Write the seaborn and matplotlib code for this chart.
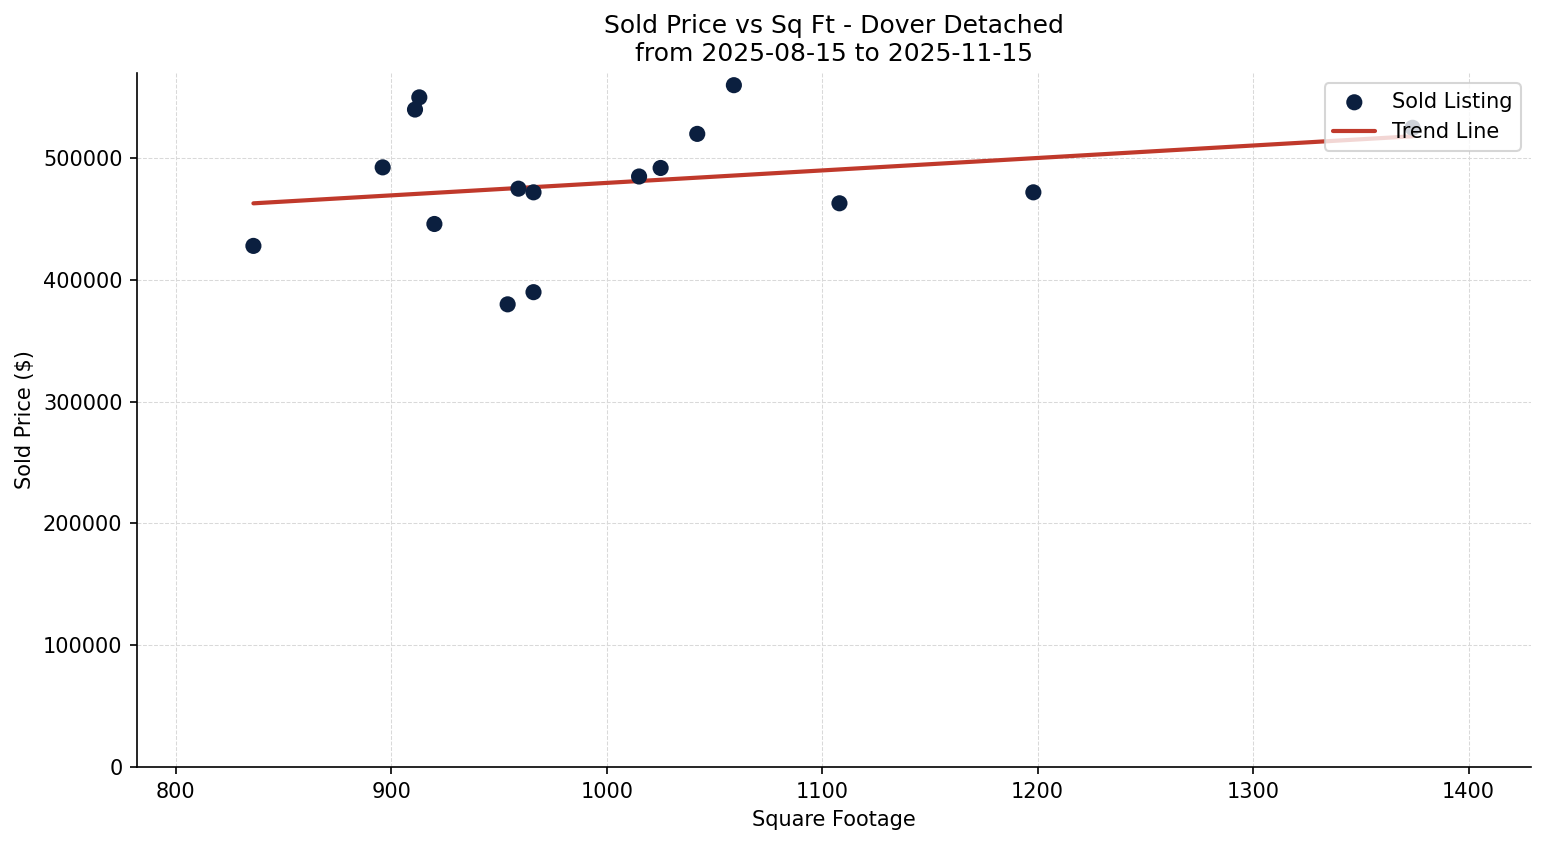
import numpy as np
import pandas as pd
import matplotlib
matplotlib.use("Agg")
import matplotlib.pyplot as plt
import seaborn as sns

sqft = [836, 896, 911, 913, 920, 954, 959, 966, 966, 1015, 1025, 1042, 1059, 1108, 1198, 1374]
price = [428000, 492500, 540000, 550000, 446000, 380000, 475000, 472000, 390000,
         485000, 492000, 520000, 560000, 463000, 472000, 525000]

df = pd.DataFrame({'sqft': sqft, 'price': price})

sns.set_style('ticks', {'text.color': 'black', 'axes.labelcolor': 'black',
                        'xtick.color': 'black', 'ytick.color': 'black',
                        'axes.edgecolor': 'black'})
plt.rcParams['font.family'] = ['DejaVu Sans']

fig, ax = plt.subplots(figsize=(1547 / 150, 845 / 150), dpi=150)
fig.subplots_adjust(left=0.0886, right=0.9897, top=0.9136, bottom=0.0923)

slope, intercept = np.polyfit(df['sqft'], df['price'], 1)
xs = np.array([df['sqft'].min(), df['sqft'].max()])
ax.plot(xs, slope * xs + intercept, color='#c0392b', linewidth=2, label='Trend Line', zorder=2)

sns.scatterplot(data=df, x='sqft', y='price', ax=ax, color='#0b1f3f', s=60,
                edgecolor='none', label='Sold Listing', zorder=3)

ax.set_xlim(782, 1429)
ax.set_ylim(0, 570000)
ax.set_xticks(range(800, 1401, 100))
ax.set_yticks(range(0, 500001, 100000))
ax.ticklabel_format(axis='y', style='plain')
ax.grid(True, linestyle='--', linewidth=0.5, color='#d9d9d9')
ax.set_axisbelow(True)
sns.despine(ax=ax)

ax.set_xlabel('Square Footage')
ax.set_ylabel('Sold Price ($)')
ax.set_title('Sold Price vs Sq Ft - Dover Detached\nfrom 2025-08-15 to 2025-11-15')

handles, labels = ax.get_legend_handles_labels()
order = [labels.index('Sold Listing'), labels.index('Trend Line')]
ax.legend([handles[i] for i in order], [labels[i] for i in order], loc='upper right')

plt.savefig('out.png', dpi=150)
